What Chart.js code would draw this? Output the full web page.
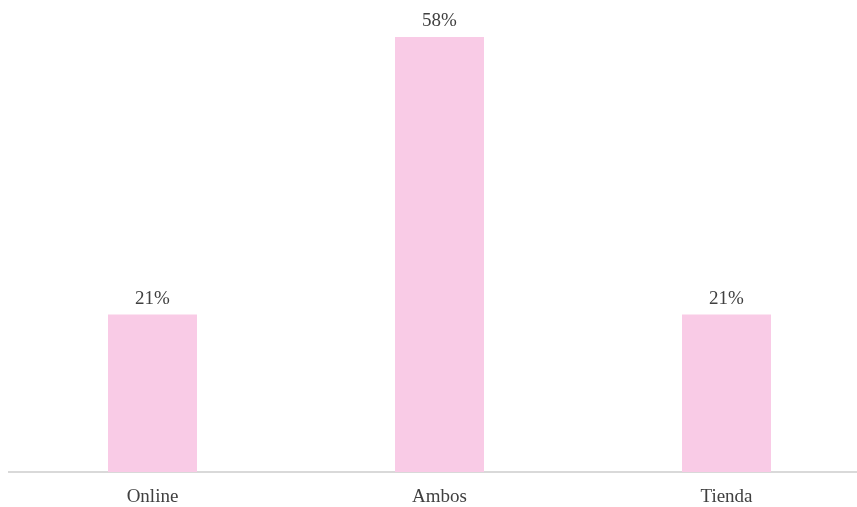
<!DOCTYPE html>
<html>
<head>
<meta charset="utf-8">
<script src="https://cdn.jsdelivr.net/npm/chart.js@4/dist/chart.umd.min.js"></script>
<style>
  html, body { margin: 0; padding: 0; background: #ffffff; }
  /* el lienzo es algo más ancho que la vista; el exceso queda recortado */
  #wrap { width: 857px; height: 507px; overflow: hidden; }
  #chart-canal { display: block; }
</style>
</head>
<body>
<div id="wrap"><canvas id="chart-canal" width="870" height="507"></canvas></div>
<script>
// Canal de compra preferido
const categorias = ["Online", "Ambos", "Tienda"];
const porcentajes = [21, 58, 21];

const fuente = "'Liberation Serif', 'Times New Roman', serif";
const colorTexto = "#404040";

// Etiquetas de valor encima de cada barra
const etiquetasValor = {
  id: "etiquetasValor",
  afterDatasetsDraw(chart) {
    const ctx = chart.ctx;
    const meta = chart.getDatasetMeta(0);
    ctx.save();
    ctx.font = "19px " + fuente;
    ctx.fillStyle = colorTexto;
    ctx.textAlign = "center";
    ctx.textBaseline = "alphabetic";
    meta.data.forEach((bar, i) => {
      ctx.fillText(porcentajes[i] + "%", bar.x, bar.y - 11);
    });
    ctx.restore();
  }
};

new Chart("chart-canal", {
  type: "bar",
  data: {
    labels: categorias,
    datasets: [{
      data: porcentajes,
      backgroundColor: "#F9CBE6",
      borderWidth: 0,
      categoryPercentage: 1,
      barPercentage: 0.31
    }]
  },
  options: {
    responsive: false,
    animation: false,
    layout: { padding: { left: 9, right: 0, top: 22, bottom: 0 } },
    plugins: {
      legend: { display: false },
      tooltip: { enabled: false }
    },
    scales: {
      y: {
        display: false,
        min: 0,
        max: 60
      },
      x: {
        grid: { display: false, drawTicks: false },
        border: { display: true, color: "#D9D9D9", width: 2 },
        ticks: {
          color: colorTexto,
          padding: 14,
          font: { family: fuente, size: 19 }
        },
        afterFit(scale) {
          scale.height = 35;
        }
      }
    }
  },
  plugins: [etiquetasValor]
});
</script>
</body>
</html>
